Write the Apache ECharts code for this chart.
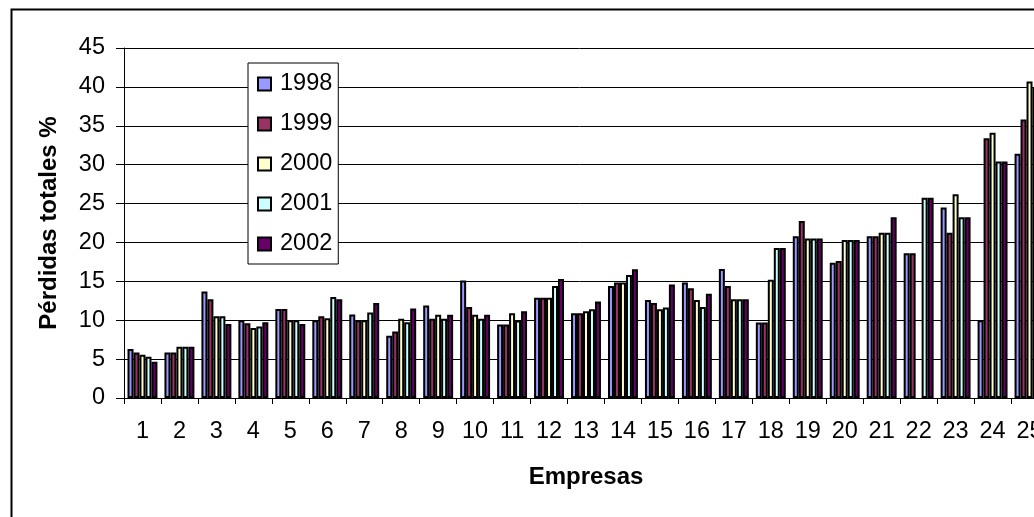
<!DOCTYPE html>
<html>
<head>
<meta charset="utf-8">
<script src="https://cdn.jsdelivr.net/npm/echarts@6/dist/echarts.min.js"></script>
<style>
html,body{margin:0;padding:0;background:#fff;}
#c{width:1034px;height:517px;}
</style>
</head>
<body>
<div id="c"></div>
<script>
const categories = ['1','2','3','4','5','6','7','8','9','10','11','12','13','14','15','16','17','18','19','20','21','22','23','24','25'];
const seriesNames = ['1998','1999','2000','2001','2002'];
const s1998 = [6.3, 5.85, 13.7, 10, 11.45, 10, 10.75, 8.0, 11.9, 15.1, 9.45, 12.9, 10.9, 14.4, 12.6, 14.85, 16.6, 9.7, 20.8, 17.4, 20.8, 18.6, 24.5, 10.0, 31.4];
const s1999 = [5.85, 5.85, 12.7, 9.6, 11.45, 10.5, 10, 8.55, 10.2, 11.7, 9.45, 12.9, 10.9, 14.85, 12.2, 14.1, 14.4, 9.7, 22.75, 17.6, 20.8, 18.6, 21.25, 33.4, 35.8];
const s2000 = [5.55, 6.6, 10.5, 9.0, 10, 10.25, 10, 10.2, 10.7, 10.7, 10.9, 12.9, 11.15, 14.85, 11.4, 12.6, 12.7, 15.2, 20.5, 20.3, 21.25, null, 26.2, 34.1, 40.7];
const s2001 = [5.3, 6.6, 10.5, 9.2, 10, 13, 11, 9.75, 10.2, 10.2, 9.95, 14.4, 11.4, 15.8, 11.65, 11.7, 12.7, 19.3, 20.5, 20.3, 21.25, 25.75, 23.25, 30.4, 40];
const s2002 = [4.65, 6.6, 9.5, 9.75, 9.5, 12.7, 12.2, 11.5, 10.7, 10.7, 11.15, 15.3, 12.4, 16.55, 14.6, 13.4, 12.7, 19.3, 20.5, 20.3, 23.25, 25.75, 23.25, 30.4, 38];
const yTicks = {min: 0, max: 45, interval: 5};

const colors = ['#9999FF', '#993366', '#FFFFCC', '#CCFFFF', '#660066'];
const allData = [s1998, s1999, s2000, s2001, s2002];
const FONT = '"Liberation Sans", Arial, sans-serif';

const chart = echarts.init(document.getElementById('c'), null, {renderer: 'canvas'});
chart.setOption({
  animation: false,
  backgroundColor: '#fff',
  graphic: [{
    type: 'rect', left: 9, top: 7, z: -1,
    shape: {width: 1200, height: 700},
    style: {fill: 'none', stroke: '#000', lineWidth: 2}
  }],
  grid: {left: 124, top: 48, width: 924, height: 350, containLabel: false, outerBoundsMode: 'none'},
  legend: {
    orient: 'vertical', left: 248, top: 63,
    padding: [9, 6, 8, 9], itemGap: 16,
    itemWidth: 13, itemHeight: 13, icon: 'rect',
    borderColor: '#000', borderWidth: 1, backgroundColor: '#fff',
    textStyle: {fontFamily: FONT, fontSize: 23.5, color: '#000', lineHeight: 24, padding: [0, 0, 0, 4]},
    data: seriesNames
  },
  xAxis: {
    type: 'category', data: categories, boundaryGap: true,
    name: 'Empresas', nameLocation: 'middle', nameGap: 67,
    nameTextStyle: {fontFamily: FONT, fontSize: 24, fontWeight: 'bold', color: '#000'},
    axisLine: {lineStyle: {color: '#000', width: 1}},
    axisTick: {show: true, interval: 0, length: 6, lineStyle: {color: '#000'}},
    axisLabel: {interval: 0, fontFamily: FONT, fontSize: 23.5, color: '#000', margin: 22, hideOverlap: false}
  },
  yAxis: {
    type: 'value', min: yTicks.min, max: yTicks.max, interval: yTicks.interval,
    name: 'Pérdidas totales %', nameLocation: 'middle', nameGap: 63, nameRotate: 90,
    nameTextStyle: {fontFamily: FONT, fontSize: 24, fontWeight: 'bold', color: '#000'},
    axisLine: {show: true, lineStyle: {color: '#000', width: 1}},
    axisTick: {show: true, length: 8, lineStyle: {color: '#000'}},
    axisLabel: {fontFamily: FONT, fontSize: 23.5, color: '#000', margin: 19},
    splitLine: {show: true, lineStyle: {color: '#000', width: 1}}
  },
  series: seriesNames.map((n, i) => ({
    name: n, type: 'bar', data: allData[i],
    barGap: '0%', barCategoryGap: '19%',
    itemStyle: {color: colors[i], borderColor: '#000', borderWidth: 2}
  }))
});
</script>
</body>
</html>
